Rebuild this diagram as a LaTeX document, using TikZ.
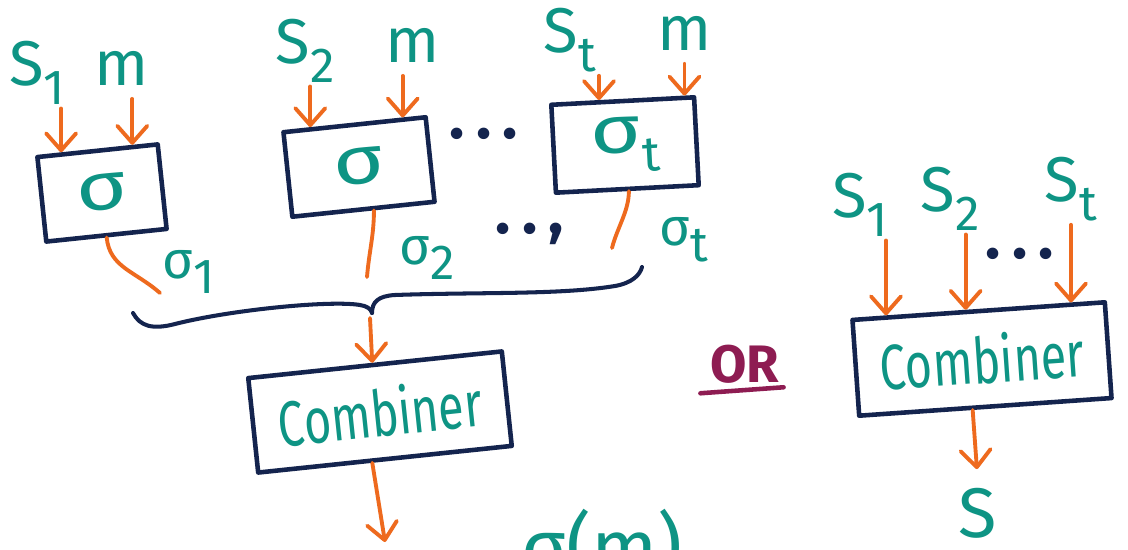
\documentclass[tikz,border=0pt]{standalone}
\usepackage{fontspec}
\setmainfont{Fira Sans}
\usetikzlibrary{arrows.meta,calc}
\definecolor{inkteal}{HTML}{0E9484}
\definecolor{inkorange}{HTML}{EE6A1E}
\definecolor{inknavy}{HTML}{14244E}
\definecolor{inkplum}{HTML}{8E1C52}
\newcommand\lsub[1]{\raisebox{-0.3em}{\fontsize{28}{28}\selectfont #1}}
\newcommand\bigsig{\scalebox{1.3}[1]{σ}}
\newcommand\spdots{.\hspace{0.18em}.\hspace{0.18em}.}
\begin{document}
\begin{tikzpicture}[x=0.02cm,y=-0.02cm,
  box/.style={draw=inknavy,line width=2.6pt,line join=round,inner sep=0pt,text=inkteal,font=\fontsize{38}{38}\selectfont},
  lbl/.style={text=inkteal,font=\fontsize{36}{36}\selectfont,inner sep=2pt},
  olbl/.style={text=inkteal,font=\fontsize{30}{30}\selectfont,inner sep=2pt},
  arr/.style={draw=inkorange,line width=2.2pt,line cap=round,-{Straight Barb[length=3.4mm,width=6mm,line width=2.2pt,round]}},
  wire/.style={draw=inkorange,line width=2.2pt,line cap=round},
  dotsl/.style={text=inknavy,font=\fontsize{36}{36}\selectfont\bfseries,inner sep=0pt},
  brace/.style={draw=inknavy,line width=2.3pt,line cap=round,line join=round}]
\useasboundingbox[fill=white] (0,0) rectangle (1128,550);

% boxes
\node[box,rotate=6,minimum width=2.42cm,minimum height=1.70cm] (b1) at (102,193) {\bigsig};
\node[box,rotate=6,minimum width=2.86cm,minimum height=1.70cm] (b2) at (359,167) {\bigsig};
\node[box,rotate=3,minimum width=2.86cm,minimum height=1.76cm] (b3) at (625,145) {\bigsig\lsub{t}};
\node[box,rotate=6,minimum width=5.10cm,minimum height=1.90cm] (c1) at (380,412) {\scalebox{0.95}[1.3]{\fontsize{28}{28}\selectfont Combiner}};
\node[box,rotate=4,minimum width=5.06cm,minimum height=1.92cm] (c2) at (982,359) {\scalebox{0.95}[1.3]{\fontsize{28}{28}\selectfont Combiner}};

% input labels
\node[lbl] (s1) at (37,73) {S\lsub{1}};
\node[lbl] (m1) at (122,68) {m};
\node[lbl] (s2) at (305,51) {S\lsub{2}};
\node[lbl] (m2) at (413,45) {m};
\node[lbl] (st) at (570,40) {S\lsub{t}};
\node[lbl] (m3) at (685,33) {m};
\node[lbl] (r1) at (860,205) {S\lsub{1}};
\node[lbl] (r2) at (950,199) {S\lsub{2}};
\node[lbl] (r3) at (1071,189) {S\lsub{t}};

% output labels
\node[olbl] (o1) at (189,272) {σ\lsub{1}};
\node[olbl] (o2) at (427,258) {σ\lsub{2}};
\node[olbl] (o3) at (684,240) {σ\lsub{t}};
\node[dotsl] (d1) at (484,134) {\spdots};
\node[dotsl] (d2) at (530,234) {.\hspace{0.18em}.\hspace{0.18em},};
\node[dotsl] (d3) at (1020,254) {\spdots};

\node[text=inkplum,font=\fontsize{30}{30}\selectfont\bfseries,inner sep=1pt] (or) at (745,364) {OR};
\draw[draw=inkplum,line width=2.6pt,line cap=round] ($(or.south west)+(-8,8)$) -- ($(or.south east)+(2,2)$);

\node[lbl,font=\fontsize{40}{40}\selectfont] (sres) at (978,513) {S};
\node[lbl,font=\fontsize{44}{44}\selectfont,anchor=base] (sm) at (602,574) {σ(m)};

% edge points on boxes
\coordinate (b1i1) at ($(b1.north west)!0.21!(b1.north east)$);
\coordinate (b1i2) at ($(b1.north west)!0.78!(b1.north east)$);
\coordinate (b2i1) at ($(b2.north west)!0.20!(b2.north east)$);
\coordinate (b2i2) at ($(b2.north west)!0.83!(b2.north east)$);
\coordinate (b3i1) at ($(b3.north west)!0.34!(b3.north east)$);
\coordinate (b3i2) at ($(b3.north west)!0.92!(b3.north east)$);
\coordinate (c2i1) at ($(c2.north west)!0.14!(c2.north east)$);
\coordinate (c2i2) at ($(c2.north west)!0.45!(c2.north east)$);
\coordinate (c2i3) at ($(c2.north west)!0.86!(c2.north east)$);
\coordinate (c1i) at ($(c1.north west)!0.49!(c1.north east)$);
\coordinate (b1o) at ($(b1.south west)!0.50!(b1.south east)$);
\coordinate (b2o) at ($(b2.south west)!0.57!(b2.south east)$);
\coordinate (b3o) at ($(b3.south west)!0.51!(b3.south east)$);
\coordinate (c1o) at ($(c1.south west)!0.45!(c1.south east)$);
\coordinate (c2o) at ($(c2.south west)!0.45!(c2.south east)$);
\coordinate (e1) at (160,293);
\coordinate (e2) at (367,277);
\coordinate (e3) at (612,248);
\coordinate (bt) at (372,313);
\coordinate (cend) at (385,542);

% input arrows
\draw[arr] (s1.south -| b1i1) -- (b1i1);
\draw[arr] ([yshift=-0.2cm]m1.south -| b1i2) -- (b1i2);
\draw[arr] (s2.south -| b2i1) -- (b2i1);
\draw[arr] ([yshift=-0.2cm]m2.south -| b2i2) -- (b2i2);
\draw[arr] (st.south -| b3i1) -- (b3i1);
\draw[arr] ([yshift=-0.2cm]m3.south -| b3i2) -- (b3i2);
\draw[arr] (r1.south -| c2i1) -- (c2i1);
\draw[arr] (r2.south -| c2i2) -- (c2i2);
\draw[arr] (r3.south -| c2i3) -- (c2i3);

% outputs
\draw[wire] (b1o) .. controls +(3,30) and +(-25,-22) .. (e1);
\draw[wire] (b2o) .. controls +(0,25) and +(2,-25) .. (e2);
\draw[wire] (b3o) .. controls +(0,20) and +(5,-20) .. (e3);

% brace
\draw[brace] (133,313) .. controls (140,326) and (152,330) .. (175,324)
  .. controls (230,310) and (330,300) .. (360,305) .. controls (367,306) and (371,309) .. (bt);
\draw[brace] (bt) .. controls (372,302) and (378,296) .. (395,295)
  .. controls (480,292) and (560,295) .. (615,286) .. controls (632,283) and (640,275) .. (642,267);

\draw[arr] ($(bt)+(-2,5)$) -- (c1i);
\draw[arr] (c1o) -- (cend);
\draw[arr,shorten >=0.3cm] (c2o) -- (sres.north);
\end{tikzpicture}
\end{document}
